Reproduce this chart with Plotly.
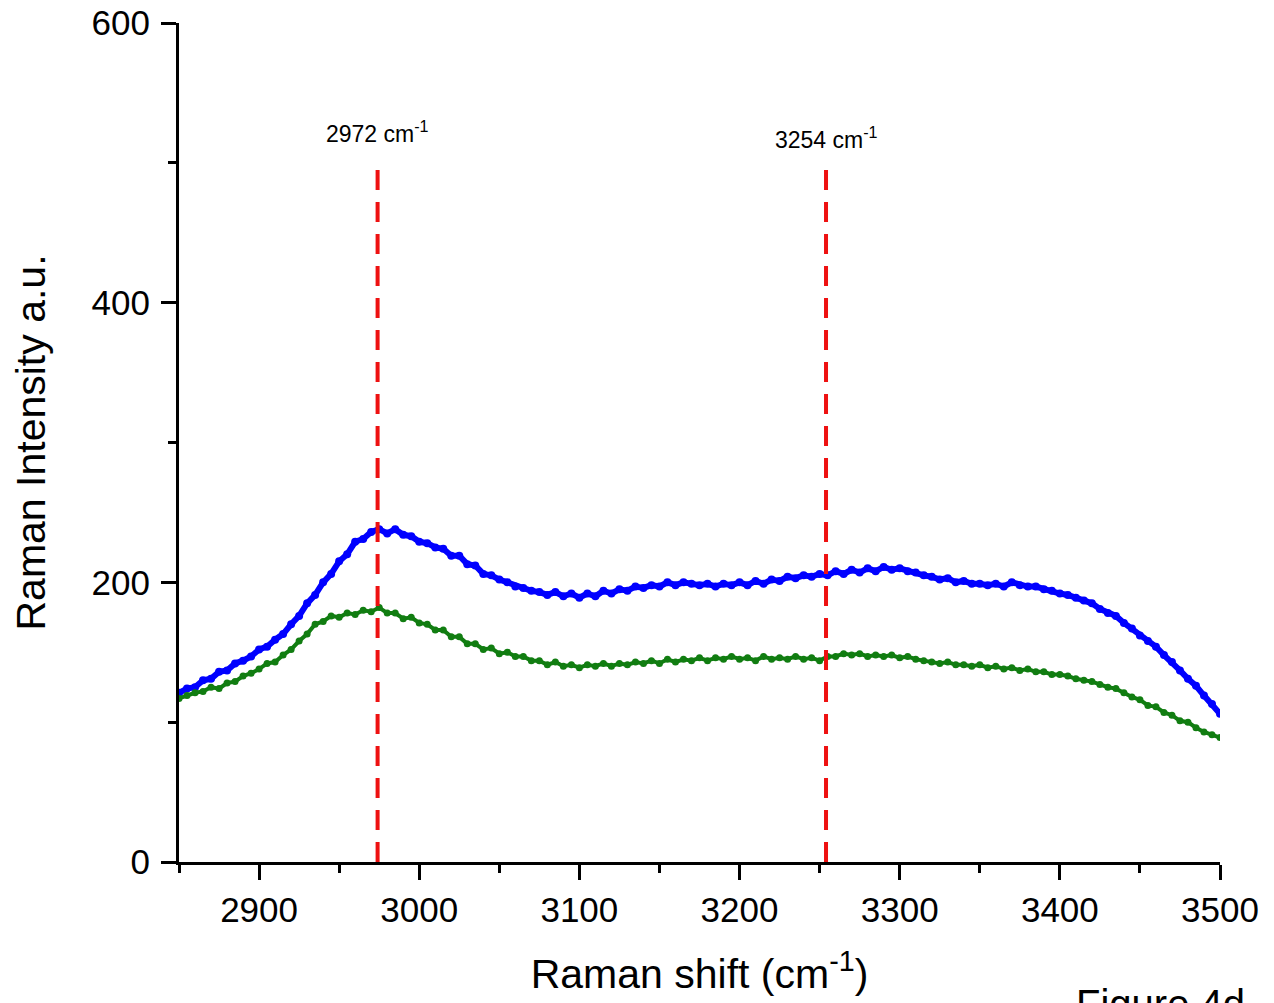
import plotly.graph_objects as go

# ---- data ----
raman_shift = list(range(2850, 3501, 5))

blue_intensity = [
    121, 124, 125, 130, 131, 136, 137, 142, 144, 147,
    152, 154, 159, 163, 170, 176, 185, 191, 200, 206,
    215, 220, 229, 231, 236, 238, 235, 238, 234, 233,
    229, 228, 225, 224, 219, 219, 213, 212, 206, 205,
    202, 200, 197, 196, 194, 193, 191, 193, 190, 192,
    189, 192, 190, 194, 192, 195, 194, 197, 196, 198,
    197, 200, 198, 200, 199, 198, 199, 197, 199, 198,
    200, 198, 201, 199, 202, 201, 204, 203, 205, 204,
    206, 205, 208, 206, 209, 207, 210, 208, 211, 209,
    210, 208, 207, 205, 204, 202, 203, 200, 201, 199,
    199, 198, 199, 197, 200, 198, 197, 197, 195, 194,
    192, 191, 189, 187, 185, 181, 178, 176, 171, 167,
    162, 158, 154, 148, 143, 137, 131, 126, 119, 113,
    106,
]

green_intensity = [
    117, 119, 121, 122, 125, 124, 128, 129, 133, 135,
    138, 142, 143, 148, 152, 158, 163, 170, 172, 176,
    175, 178, 177, 180, 179, 182, 178, 178, 174, 175,
    171, 170, 166, 166, 161, 161, 156, 156, 152, 153,
    149, 150, 147, 147, 144, 144, 141, 143, 140, 141,
    139, 141, 140, 142, 140, 142, 141, 143, 142, 144,
    142, 145, 143, 145, 144, 146, 144, 146, 145, 147,
    145, 146, 144, 147, 145, 146, 145, 147, 145, 146,
    144, 147, 147, 149, 148, 149, 147, 148, 147, 148,
    146, 147, 145, 144, 143, 142, 143, 141, 141, 140,
    141, 139, 140, 138, 139, 137, 138, 136, 136, 134,
    134, 133, 131, 130, 129, 127, 125, 124, 121, 118,
    116, 112, 111, 107, 105, 101, 100, 96, 93, 91,
    89,
]

peak_positions = [2974, 3254]
peak_labels = ["2972 cm<sup>-1</sup>", "3254 cm<sup>-1</sup>"]
peak_label_y = [522, 518]
line_top = 502

x_ticks = [2900, 3000, 3100, 3200, 3300, 3400, 3500]
y_ticks = [0, 200, 400, 600]

FONT = "Liberation Sans, Arial, sans-serif"

fig = go.Figure()

fig.add_trace(go.Scatter(
    x=raman_shift, y=blue_intensity, mode="lines+markers",
    line=dict(color="#0000ff", width=6),
    marker=dict(color="#0000ff", size=8),
    showlegend=False,
))
fig.add_trace(go.Scatter(
    x=raman_shift, y=green_intensity, mode="lines+markers",
    line=dict(color="#117d11", width=4),
    marker=dict(color="#117d11", size=7),
    showlegend=False,
))

for px in peak_positions:
    fig.add_trace(go.Scatter(
        x=[px, px], y=[0, line_top], mode="lines",
        line=dict(color="#ee1111", width=4, dash="20px,12px"),
        showlegend=False, hoverinfo="skip",
    ))

for px, lab, ly in zip(peak_positions, peak_labels, peak_label_y):
    fig.add_annotation(
        x=px, y=ly, text=lab, showarrow=False,
        xanchor="center", yanchor="middle",
        font=dict(family=FONT, size=23, color="black"),
    )

fig.add_annotation(
    xref="paper", yref="paper", x=0.86, y=-0.141,
    text="Figure 4d", showarrow=False, xanchor="left", yanchor="top",
    font=dict(family=FONT, size=40, color="black"),
)

axis_common = dict(
    showgrid=False, zeroline=False, showline=True,
    linecolor="black", linewidth=3,
    ticks="outside", ticklen=15, tickwidth=3, tickcolor="black",
    tickfont=dict(family=FONT, size=35, color="black"),
    ticklabeloverflow="allow",
)

fig.update_xaxes(
    range=[2850, 3500], tickvals=x_ticks,
    minor=dict(ticks="outside", ticklen=8, tickwidth=3, tickcolor="black", dtick=50, tick0=2850),
    title=dict(text="Raman shift (cm<sup>-1</sup>)", font=dict(family=FONT, size=41, color="black"), standoff=32),
    **axis_common,
)
fig.update_yaxes(
    range=[0, 600], tickvals=y_ticks,
    minor=dict(ticks="outside", ticklen=8, tickwidth=3, tickcolor="black", dtick=100, tick0=0),
    title=dict(text="Raman Intensity a.u.", font=dict(family=FONT, size=41, color="black"), standoff=36),
    ticklabelstandoff=4,
    **axis_common,
)

fig.update_layout(
    width=1266, height=995,
    margin=dict(l=171, r=54, t=15, b=141, autoexpand=False),
    plot_bgcolor="white", paper_bgcolor="white",
    font=dict(family=FONT, color="black"),
)

fig.write_html("out.html")
